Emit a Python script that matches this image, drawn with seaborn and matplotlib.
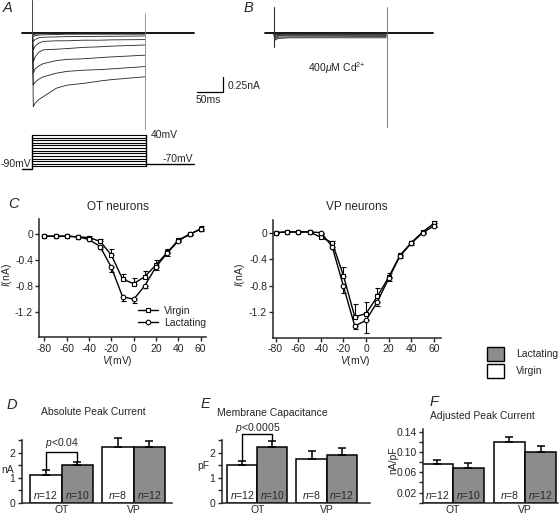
import numpy as np
import pandas as pd
import matplotlib
matplotlib.use("Agg")
import matplotlib.pyplot as plt
import seaborn as sns
from matplotlib.lines import Line2D
from matplotlib.patches import Patch

sns.set_style("ticks")
plt.rcParams["font.family"] = ["Liberation Sans", "DejaVu Sans"]
plt.rcParams["mathtext.fontset"] = "custom"
plt.rcParams["mathtext.rm"] = "Liberation Sans"
plt.rcParams["mathtext.it"] = "Liberation Sans:italic"
plt.rcParams["mathtext.bf"] = "Liberation Sans:bold"
plt.rcParams["axes.unicode_minus"] = False

# ---------------- data ----------------
# Panel A: whole-cell current traces (ms, nA)
trace_time = [0, 1.5, 5, 12, 21, 46, 66, 98, 130, 149, 216]
traces_a = [
    [-0.05, -1.23, -1.17, -1.11, -1.06, -0.92, -0.87, -0.84, -0.80, -0.78, -0.73],
    [-0.05, -0.87, -0.82, -0.77, -0.73, -0.67, -0.64, -0.62, -0.61, -0.60, -0.56],
    [-0.05, -0.67, -0.60, -0.55, -0.51, -0.46, -0.44, -0.43, -0.41, -0.40, -0.37],
    [-0.05, -0.48, -0.40, -0.32, -0.28, -0.27, -0.26, -0.24, -0.23, -0.22, -0.20],
    [-0.03, -0.28, -0.22, -0.17, -0.14, -0.13, -0.13, -0.12, -0.12, -0.115, -0.11],
    [-0.02, -0.14, -0.11, -0.08, -0.07, -0.065, -0.06, -0.06, -0.055, -0.055, -0.05],
    [-0.01, -0.06, -0.045, -0.035, -0.03, -0.025, -0.02, -0.02, -0.02, -0.02, -0.02],
    [0.00, -0.03, -0.02, -0.015, -0.01, -0.01, -0.01, -0.01, -0.01, -0.01, -0.01],
]
# Panel B: traces in 400 uM Cd2+
trace_time_b = [0, 1.5, 8, 30, 216]
traces_b = [
    [-0.02, -0.12, -0.09, -0.08, -0.08],
    [-0.02, -0.10, -0.07, -0.065, -0.06],
    [-0.02, -0.08, -0.05, -0.045, -0.045],
    [-0.01, -0.06, -0.04, -0.03, -0.03],
    [0.00, -0.04, -0.025, -0.02, -0.02],
    [0.00, -0.03, -0.015, -0.01, -0.01],
]
# voltage protocol (mV)
holding_mv = -90
step_mv = [-80, -70, -60, -50, -40, -30, -20, -10, 0, 10, 20, 30, 40]
return_mv = -70
step_ms = 218
scale_na = 0.25
scale_ms = 50

# Panel C: I-V relations
iv_v = [-80, -70, -60, -50, -40, -30, -20, -10, 0, 10, 20, 30, 40, 50, 60]
ot_virgin = [-0.03, -0.03, -0.03, -0.04, -0.05, -0.11, -0.32, -0.69, -0.76, -0.65, -0.47, -0.28, -0.09, 0.00, 0.08]
ot_virgin_err = [0, 0, 0, 0, 0.02, 0.04, 0.10, 0.08, 0.08, 0.08, 0.08, 0.05, 0.03, 0.01, 0.05]
ot_lact = [-0.03, -0.03, -0.03, -0.04, -0.08, -0.19, -0.51, -0.96, -1.00, -0.79, -0.50, -0.29, -0.10, 0.00, 0.08]
ot_lact_err = [0, 0, 0, 0, 0.02, 0.03, 0.07, 0.06, 0.06, 0.04, 0.05, 0.04, 0.02, 0.01, 0.03]
vp_virgin = [0.00, 0.01, 0.01, 0.01, -0.07, -0.15, -0.65, -1.27, -1.22, -0.96, -0.67, -0.34, -0.15, 0.01, 0.14]
vp_virgin_err = [0, 0, 0, 0, 0.02, 0.03, 0.13, 0.20, 0.17, 0.12, 0.06, 0.04, 0.03, 0.02, 0.03]
vp_lact = [0.00, 0.01, 0.01, 0.01, 0.00, -0.21, -0.81, -1.41, -1.32, -1.04, -0.69, -0.35, -0.16, 0.00, 0.10]
vp_lact_err = [0, 0, 0, 0, 0.02, 0.03, 0.10, 0.05, 0.19, 0.06, 0.04, 0.03, 0.02, 0.02, 0.02]
iv_xticks = [-80, -60, -40, -20, 0, 20, 40, 60]
iv_yticks = [0, -0.4, -0.8, -1.2]
iv_yticklabels = ["0", "-0.4", "-0.8", "-1.2"]

# Panels D-F: bar charts
bar_groups = ["OT", "OT", "VP", "VP"]
bar_conditions = ["Virgin", "Lactating", "Virgin", "Lactating"]
n_cells = [12, 10, 8, 12]
peak_current = [1.12, 1.50, 2.24, 2.24]
peak_current_err = [0.19, 0.12, 0.33, 0.24]
capacitance = [1.51, 2.24, 1.73, 1.91]
capacitance_err = [0.17, 0.23, 0.34, 0.26]
adjusted_current = [0.076, 0.069, 0.120, 0.099]
adjusted_current_err = [0.008, 0.010, 0.009, 0.013]

GRAY = "#8c8c8c"
FS = 7.5

W, H = 560, 516
fig = plt.figure(figsize=(W / 100, H / 100), dpi=100)


def px_axes(x0, y0, x1, y1):
    return fig.add_axes([x0 / W, 1 - y1 / H, (x1 - x0) / W, (y1 - y0) / H])


def ftext(x, y, s, **kw):
    kw.setdefault("fontsize", FS)
    return fig.text(x / W, 1 - y / H, s, **kw)


# ---------------- Panel A traces ----------------
axA = px_axes(0, 0, 250, 130)
axA.set_xlim(-62.5, 418.27)
axA.set_ylim(-1.617, 0.55)
axA.axis("off")
axA.plot([-20, 310], [0, 0], color="k", lw=1.3)
for tr in traces_a:
    axA.plot(trace_time, tr, color="#222222", lw=0.6)
axA.plot([0, 0], [0.55, -0.07], color="#444444", lw=0.7)
axA.plot([216, 216], [0.33, -1.617], color="#888888", lw=0.6)
# scale bar
sx, sy = 366.3, -0.983
axA.plot([sx - scale_ms, sx, sx], [sy, sy, sy + scale_na], color="k", lw=0.9)
axA.text(sx + 8, sy + 0.1, f"{scale_na}nA", fontsize=FS, va="center", ha="left")
axA.text(sx - scale_ms / 2 - 4, sy - 0.14, f"{scale_ms}ms", fontsize=FS, va="center", ha="center")

# voltage protocol
axP = px_axes(0, 125, 250, 175)
axP.set_xlim(-62.5, 418.27)
axP.set_ylim(-113, 78.2)
axP.axis("off")
for v in step_mv:
    axP.plot([0, step_ms], [v, v], color="k", lw=0.8)
axP.plot([-20, 0, 0], [holding_mv, holding_mv, step_mv[-1]], color="k", lw=1.0)
axP.plot([step_ms, step_ms], [step_mv[0], step_mv[-1]], color="k", lw=1.0)
axP.plot([step_ms, 310], [return_mv, return_mv], color="k", lw=1.0)
ftext(151, 135, f"{step_mv[-1]}mV", ha="left", va="center")
ftext(193, 158.5, f"{return_mv}mV", ha="right", va="center")
ftext(31, 164, f"{holding_mv}mV", ha="right", va="center")

# ---------------- Panel B traces ----------------
axB = px_axes(240, 0, 440, 130)
axB.set_xlim(-65.4, 319.2)
axB.set_ylim(-1.617, 0.55)
axB.axis("off")
axB.plot([-17, 306], [0, 0], color="k", lw=1.3)
for tr in traces_b:
    axB.plot(trace_time_b, tr, color="#222222", lw=0.6)
axB.plot([0, 0], [0.43, -0.23], color="#333333", lw=0.8)
axB.plot([217, 217], [0.43, -1.57], color="#666666", lw=0.6)
axB.text(121, -0.583, "400$\\mu$M Cd$^{2{+}}$", fontsize=FS, ha="center", va="center")

# ---------------- Panel C: I-V ----------------
def iv_panel(ax, vir, vir_err, lac, lac_err, xlim, ylim, title, title_x, title_y,
             ylab_x, xlab_x):
    zeros = np.zeros(len(iv_v))
    ax.errorbar(iv_v, vir, yerr=[zeros, vir_err], fmt="none", ecolor="k",
                elinewidth=0.8, capsize=1.8, capthick=0.8, zorder=2)
    ax.errorbar(iv_v, lac, yerr=[lac_err, zeros], fmt="none", ecolor="k",
                elinewidth=0.8, capsize=1.8, capthick=0.8, zorder=2)
    sns.lineplot(x=iv_v, y=vir, ax=ax, color="k", lw=1.0, marker="s", markersize=3.3,
                 markerfacecolor="white", markeredgecolor="k", markeredgewidth=0.8, zorder=3)
    sns.lineplot(x=iv_v, y=lac, ax=ax, color="k", lw=1.0, marker="o", markersize=3.3,
                 markerfacecolor="white", markeredgecolor="k", markeredgewidth=0.8, zorder=3)
    ax.set_xlim(*xlim)
    ax.set_ylim(*ylim)
    ax.set_xticks(iv_xticks)
    ax.set_xticklabels([str(t) for t in iv_xticks])
    ax.set_yticks(iv_yticks)
    ax.set_yticklabels(iv_yticklabels)
    sns.despine(ax=ax)
    for s in ("left", "bottom"):
        ax.spines[s].set_linewidth(1.1)
    ax.tick_params(direction="out", length=3, width=1.0, labelsize=FS, pad=1.5)
    ax.set_xlabel("$V$(mV)", fontsize=FS)
    ax.set_ylabel("$I$(nA)", fontsize=FS)
    ax.xaxis.set_label_coords(xlab_x, -0.14)
    ax.yaxis.set_label_coords(ylab_x, 0.53)
    ax.set_title(title, fontsize=8.5, x=title_x, y=title_y, pad=0)


axC1 = px_axes(39.3, 219.3, 206, 337.3)
iv_panel(axC1, ot_virgin, ot_virgin_err, ot_lact, ot_lact_err,
         (-84.5, 64.7), (-1.585, 0.23), "OT neurons", 0.472, 1.079, -0.152, 0.466)
axC1.legend(handles=[Line2D([], [], color="k", lw=1.0, marker="s", ms=3.3, mfc="white", mew=0.8),
                     Line2D([], [], color="k", lw=1.0, marker="o", ms=3.3, mfc="white", mew=0.8)],
            labels=["Virgin", "Lactating"], loc="upper left",
            bbox_to_anchor=((138 - 39.3) / 166.7, (337.3 - 306) / 118),
            frameon=False, fontsize=FS, handlelength=1.9, handletextpad=0.6,
            labelspacing=0.15, borderpad=0, borderaxespad=0)

axC2 = px_axes(273.3, 220, 440.7, 337.7)
iv_panel(axC2, vp_virgin, vp_virgin_err, vp_lact, vp_lact_err,
         (-82, 65.9), (-1.584, 0.19), "VP neurons", 0.498, 1.085, -0.16, 0.488)

# bar legend
fig.legend(handles=[Patch(facecolor=GRAY, edgecolor="k", lw=1.0),
                    Patch(facecolor="white", edgecolor="k", lw=1.0)],
           labels=["Lactating", "Virgin"], loc="upper left",
           bbox_to_anchor=(487 / W, 1 - 347 / H), frameon=False, fontsize=FS,
           handlelength=1.65, handleheight=1.65, handletextpad=1.1,
           labelspacing=0.3, borderpad=0, borderaxespad=0)

# ---------------- Panels D-F: bars ----------------
BAR_W = 0.87


def bar_panel(ax, vals, errs, xlim, ylim, n_y, bounds):
    df = pd.DataFrame({"group": bar_groups, "cond": bar_conditions, "val": vals})
    sns.barplot(data=df, x="group", y="val", hue="cond", order=["OT", "VP"],
                hue_order=["Virgin", "Lactating"], palette={"Virgin": "white", "Lactating": GRAY},
                edgecolor="k", linewidth=1.1, width=BAR_W, errorbar=None, legend=False,
                saturation=1, ax=ax)
    xs = []
    for g, c in zip(bar_groups, bar_conditions):
        gi = ["OT", "VP"].index(g)
        off = -BAR_W / 4 if c == "Virgin" else BAR_W / 4
        xs.append(gi + off)
    ax.errorbar(xs, vals, yerr=[np.zeros(len(vals)), errs], fmt="none", ecolor="k",
                elinewidth=1.1, capsize=3, capthick=1.1, zorder=3, clip_on=False)
    for x, n in zip(xs, n_cells):
        ax.text(x, n_y, f"$n$={n}", ha="center", va="center", fontsize=FS)
    ax.set_xlim(*xlim)
    ax.set_ylim(*ylim)
    sns.despine(ax=ax)
    ax.spines["left"].set_bounds(*bounds)
    for s in ("left", "bottom"):
        ax.spines[s].set_linewidth(1.1)
    ax.set_xlabel("")
    ax.set_ylabel("")
    ax.tick_params(axis="x", length=0, pad=1.5, labelsize=FS)
    ax.tick_params(axis="y", which="both", direction="out", length=3, width=1.0,
                   labelsize=FS, pad=1.5)
    return xs


def bracket(ax, x0, x1, y0, y1, ytop, label, ytext):
    ax.plot([x0, x0, x1, x1], [y0, ytop, ytop, y1], color="k", lw=1.0, clip_on=False)
    ax.text((x0 + x1) / 2, ytext, label, ha="center", va="center", fontsize=FS, clip_on=False)


axD = px_axes(21.7, 437.7, 171.7, 502.7)
xsD = bar_panel(axD, peak_current, peak_current_err, (-0.553, 1.53), (0, 2.6), 0.3, (0, 2.5))
axD.set_yticks([0, 1, 2])
axD.set_yticklabels(["0", "1", "2"])
axD.set_yticks([0.5, 1.5, 2.5], minor=True)
bracket(axD, xsD[0], xsD[1], peak_current[0] + peak_current_err[0],
        peak_current[1] + peak_current_err[1], 2.04, "$p$<0.04", 2.39)

axE = px_axes(221.7, 437.7, 370, 502.7)
xsE = bar_panel(axE, capacitance, capacitance_err, (-0.513, 1.625), (0, 2.6), 0.3, (0, 2.5))
axE.set_yticks([0, 1, 2])
axE.set_yticklabels(["0", "1", "2"])
axE.set_yticks([0.5, 1.5, 2.5], minor=True)
bracket(axE, xsE[0], xsE[1], capacitance[0] + capacitance_err[0],
        capacitance[1] + capacitance_err[1], 2.75, "$p$<0.0005", 2.97)

axF = px_axes(422.7, 426.5, 558, 502.7)
xsF = bar_panel(axF, adjusted_current, adjusted_current_err, (-0.415, 1.456), (0, 0.15), 0.015, (0, 0.145))
axF.set_yticks([0.02, 0.06, 0.10, 0.14])
axF.set_yticklabels(["0.02", "0.06", "0.10", "0.14"])
axF.set_yticks([0, 0.04, 0.08, 0.12], minor=True)

# titles / axis labels of bar panels
ftext(93, 412, "Absolute Peak Current", ha="center", va="center")
ftext(272, 413, "Membrane Capacitance", ha="center", va="center")
ftext(482, 416, "Adjusted Peak Current", ha="center", va="center")
ftext(8, 470, "nA", ha="center", va="center")
ftext(203, 466, "pF", ha="center", va="center")
ftext(393, 460, "nA/pF", ha="center", va="center", rotation=90)

# panel letters
for letter, (x, y) in {"A": (3, 12), "B": (244, 12), "C": (8, 208),
                       "D": (7, 409), "E": (201, 408), "F": (430, 406)}.items():
    ftext(x, y, letter, fontsize=10.5, style="italic", ha="left", va="baseline")

fig.savefig("out.png", dpi=100)
